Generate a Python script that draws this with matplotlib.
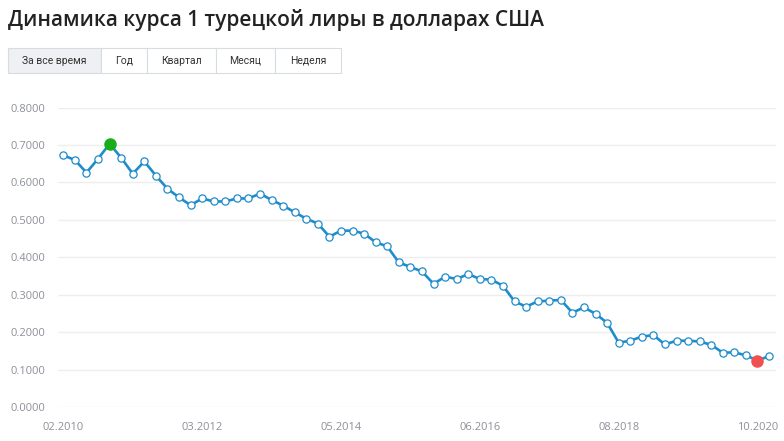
import matplotlib
matplotlib.use("Agg")
from matplotlib import pyplot as plt
from matplotlib.patches import Rectangle
import numpy as np

# course of 1 TRY in USD, one point every ~2 months
rate = [0.672, 0.660, 0.626, 0.663, 0.703, 0.666, 0.623, 0.656, 0.618, 0.583,
        0.560, 0.539, 0.557, 0.549, 0.549, 0.557, 0.557, 0.570, 0.553, 0.538,
        0.520, 0.503, 0.490, 0.455, 0.471, 0.471, 0.463, 0.440, 0.429, 0.386,
        0.374, 0.362, 0.329, 0.348, 0.342, 0.355, 0.342, 0.340, 0.324, 0.282,
        0.268, 0.282, 0.284, 0.286, 0.252, 0.266, 0.249, 0.225, 0.172, 0.177,
        0.188, 0.192, 0.167, 0.177, 0.177, 0.175, 0.166, 0.145, 0.146, 0.138,
        0.124, 0.136]
date_ticks = [0, 12, 24, 36, 48, 60]
date_labels = ["02.2010", "03.2012", "05.2014", "06.2016", "08.2018", "10.2020"]
y_ticks = [0.0, 0.1, 0.2, 0.3, 0.4, 0.5, 0.6, 0.7, 0.8]
buttons = ["За все время", "Год", "Квартал", "Месяц", "Неделя"]
button_edges = [8, 101, 147, 216, 275, 341]

W, H = 784, 441
fig = plt.figure(figsize=(W / 100, H / 100), dpi=100)
fig.patch.set_facecolor("white")

def fx(px):
    return px / W

def fy(py):
    return 1 - py / H

# title
fig.text(fx(8), fy(20), "Динамика курса 1 турецкой лиры в долларах США",
         fontsize=15, fontweight="semibold", family="Open Sans",
         color="#222222", ha="left", va="center")

# period buttons
for i, name in enumerate(buttons):
    x0, x1 = button_edges[i], button_edges[i + 1]
    face = "#eef0f3" if i == 0 else "white"
    fig.patches.append(Rectangle((fx(x0), fy(73)), fx(x1 - x0), (73 - 48) / H,
                                 transform=fig.transFigure, facecolor=face,
                                 edgecolor="#d8dbe0", linewidth=0.8))
    fig.text(fx((x0 + x1) / 2), fy(60.5), name, fontsize=7.5, family="Roboto",
             color="#333333", ha="center", va="center")

ax = fig.add_axes([fx(58), fy(407), fx(776 - 58), (407 - 107.5) / H])
x = np.arange(len(rate))
ax.plot(x, rate, color="#1f8ccb", linewidth=1.9, marker="o", markersize=5.2,
        markerfacecolor="white", markeredgecolor="#1f8ccb", markeredgewidth=0.9,
        zorder=3, clip_on=False)

imax = int(np.argmax(rate))
imin = int(np.argmin(rate))
ax.plot(x[imax], rate[imax], "o", color="#1aad1a", markersize=8, zorder=4, clip_on=False)
ax.plot(x[imin], rate[imin], "o", color="#f0504f", markersize=8, zorder=4, clip_on=False)

ax.set_xlim(-0.46, len(rate) - 0.4)
ax.set_ylim(0, 0.8)
ax.set_yticks(y_ticks)
ax.set_yticklabels(["%.4f" % v for v in y_ticks])
ax.set_xticks(date_ticks)
ax.set_xticklabels(date_labels)
ax.grid(axis="y", color="#eeeeee", linewidth=1)
ax.set_axisbelow(True)
for s in ax.spines.values():
    s.set_visible(False)
ax.tick_params(axis="both", length=0, colors="#8c9099", labelsize=8)
ax.tick_params(axis="y", pad=9.4)
ax.tick_params(axis="x", pad=11)
for lab in ax.get_xticklabels() + ax.get_yticklabels():
    lab.set_family("Open Sans")

fig.savefig("out.png", dpi=100, facecolor="white")
